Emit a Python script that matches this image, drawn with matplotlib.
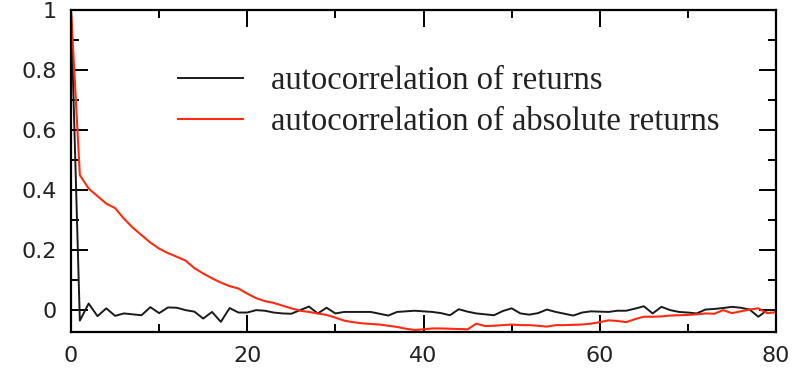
import numpy as np
import matplotlib
matplotlib.use('Agg')
import matplotlib.pyplot as plt
from matplotlib.ticker import MultipleLocator, FixedLocator, FixedFormatter

# lags and autocorrelation values
lags = list(range(0, 81))

acf_returns = [
    1.0, -0.035, 0.022, -0.02, 0.006, -0.019, -0.011, -0.014, -0.017, 0.01,
    -0.01, 0.009, 0.008, 0.0, -0.005, -0.028, -0.006, -0.039, 0.007, -0.008,
    -0.008, 0.0, -0.002, -0.008, -0.011, -0.012, 0.0, 0.012, -0.011, 0.008,
    -0.011, -0.006, -0.006, -0.006, -0.006, -0.012, -0.018, -0.006, -0.004, -0.002,
    -0.004, -0.006, -0.01, -0.017, 0.003, -0.005, -0.011, -0.014, -0.017, -0.003,
    0.006, -0.011, -0.015, -0.01, 0.002, -0.006, -0.012, -0.018, -0.008, -0.004,
    -0.005, -0.006, -0.002, -0.002, 0.005, 0.013, -0.011, 0.011, 0.0, -0.006,
    -0.008, -0.011, 0.002, 0.004, 0.007, 0.011, 0.008, 0.002, -0.022, 0.0,
    0.0,
]

acf_abs_returns = [
    1.0, 0.45, 0.405, 0.38, 0.355, 0.34, 0.305, 0.275, 0.25, 0.225,
    0.205, 0.19, 0.178, 0.165, 0.14, 0.122, 0.106, 0.092, 0.08, 0.072,
    0.055, 0.04, 0.03, 0.024, 0.015, 0.006, -0.002, -0.006, -0.011, -0.016,
    -0.025, -0.035, -0.04, -0.044, -0.046, -0.048, -0.052, -0.056, -0.062, -0.066,
    -0.064, -0.061, -0.061, -0.062, -0.063, -0.064, -0.045, -0.053, -0.052, -0.05,
    -0.048, -0.05, -0.05, -0.052, -0.055, -0.05, -0.05, -0.049, -0.048, -0.045,
    -0.04, -0.034, -0.036, -0.04, -0.03, -0.022, -0.022, -0.021, -0.018, -0.017,
    -0.016, -0.014, -0.011, -0.012, 0.0, -0.01, -0.004, 0.002, 0.006, -0.01,
    -0.007,
]

x_ticks = [0, 20, 40, 60, 80]
y_ticks = [0, 0.2, 0.4, 0.6, 0.8, 1]
y_tick_labels = ['0', '0.2', '0.4', '0.6', '0.8', '1']

fig = plt.figure(figsize=(7.99, 3.71), dpi=100)
ax = fig.add_axes([0.0889, 0.105, 0.8823, 0.868])

ax.plot(lags, acf_returns, color='#1a1a1a', lw=1.4, label='autocorrelation of returns')
ax.plot(lags, acf_abs_returns, color='#ff2a10', lw=1.5, label='autocorrelation of absolute returns')

ax.set_xlim(0, 80)
ax.set_ylim(-0.073, 1)

ax.xaxis.set_major_locator(FixedLocator(x_ticks))
ax.xaxis.set_minor_locator(MultipleLocator(10))
ax.yaxis.set_major_locator(FixedLocator(y_ticks))
ax.yaxis.set_major_formatter(FixedFormatter(y_tick_labels))
ax.yaxis.set_minor_locator(MultipleLocator(0.1))

ax.tick_params(which='both', direction='in', top=True, right=True, width=1.4, color='black')
ax.tick_params(which='major', length=12, pad=10, labelsize=16, labelcolor='#222222')
ax.tick_params(which='minor', length=6)
for lbl in ax.get_xticklabels() + ax.get_yticklabels():
    lbl.set_family('DejaVu Sans')

for s in ax.spines.values():
    s.set_linewidth(1.6)

leg = ax.legend(loc='upper left', bbox_to_anchor=(0.128, 0.878), frameon=False,
                borderpad=0, handlelength=2.0, handletextpad=0.85, labelspacing=0.32,
                prop={'family': 'Liberation Serif', 'size': 23.5})
for t in leg.get_texts():
    t.set_color('#222222')

fig.savefig('out.png', dpi=100)
